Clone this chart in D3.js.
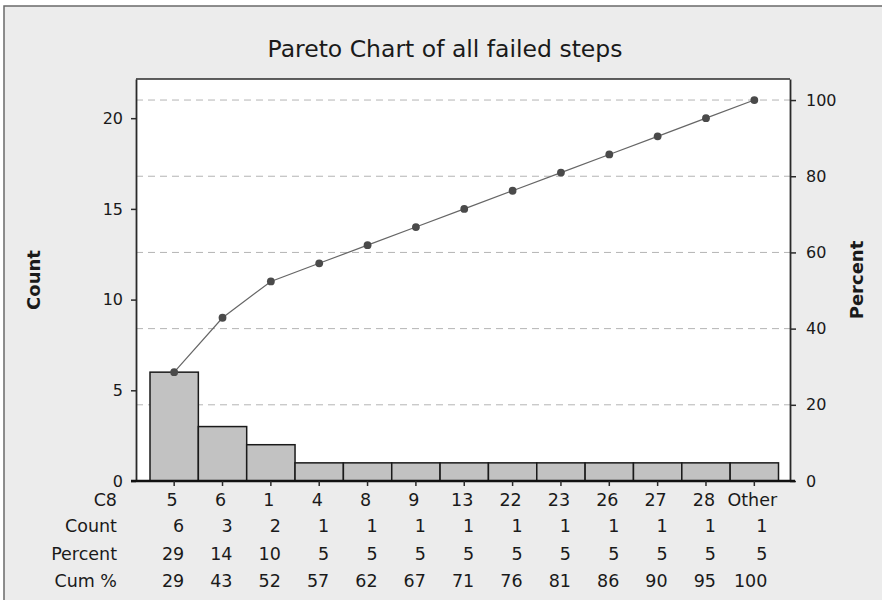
<!DOCTYPE html>
<html>
<head>
<meta charset="utf-8">
<script src="https://cdn.jsdelivr.net/npm/d3@7"></script>
<style>
  html, body { margin: 0; padding: 0; background: #ffffff; }
  svg { display: block; }
  text { font-family: "DejaVu Sans", Verdana, sans-serif; fill: #1a1a1a; }
</style>
</head>
<body>
<svg id="chart" width="882" height="600"></svg>
<script>
const categories = ["5", "6", "1", "4", "8", "9", "13", "22", "23", "26", "27", "28", "Other"];
const counts = [6, 3, 2, 1, 1, 1, 1, 1, 1, 1, 1, 1, 1];
const percentLabels = [29, 14, 10, 5, 5, 5, 5, 5, 5, 5, 5, 5, 5];
const cumPercentLabels = [29, 43, 52, 57, 62, 67, 71, 76, 81, 86, 90, 95, 100];
const countTicks = [0, 5, 10, 15, 20];
const percentTicks = [0, 20, 40, 60, 80, 100];
const rowNames = ["C8", "Count", "Percent", "Cum %"];
const titleText = "Pareto Chart of all failed steps";

const svg = d3.select("#chart");
const W = 882, H = 600;

const plot = { left: 136, right: 790, top: 79, bottom: 481 };
const total = d3.sum(counts);
const countMax = 22.16;

// outer frame
svg.append("rect").attr("x", 4).attr("y", 6).attr("width", W + 10).attr("height", H + 10)
  .attr("fill", "#ececec").attr("stroke", "#6a6a6a").attr("stroke-width", 1.5);

// plot area
svg.append("rect").attr("x", plot.left).attr("y", plot.top)
  .attr("width", plot.right - plot.left).attr("height", plot.bottom - plot.top)
  .attr("fill", "#ffffff");

const x = d3.scaleBand().domain(categories).range([150, 778.5]).paddingInner(0).paddingOuter(0);
const yC = d3.scaleLinear().domain([0, countMax]).range([plot.bottom, plot.top]);
const yP = d3.scaleLinear().domain([0, countMax / total * 100]).range([plot.bottom, plot.top]);

// grid lines
svg.append("g").selectAll("line").data(percentTicks.filter(d => d > 0)).join("line")
  .attr("x1", plot.left).attr("x2", plot.right)
  .attr("y1", d => yP(d)).attr("y2", d => yP(d))
  .attr("stroke", "#b4b4b4").attr("stroke-width", 1).attr("stroke-dasharray", "7,5");

// bars
svg.append("g").selectAll("rect").data(categories).join("rect")
  .attr("x", d => x(d)).attr("width", x.bandwidth())
  .attr("y", (d, i) => yC(counts[i])).attr("height", (d, i) => yC(0) - yC(counts[i]))
  .attr("fill", "#c2c2c2").attr("stroke", "#1a1a1a").attr("stroke-width", 1.5);

// cumulative line
let acc = 0;
const cum = counts.map(c => (acc += c) / total * 100);
const line = d3.line().x((d, i) => x(categories[i]) + x.bandwidth() / 2).y(d => yP(d));
svg.append("path").datum(cum).attr("d", line)
  .attr("fill", "none").attr("stroke", "#666666").attr("stroke-width", 1.2);
svg.append("g").selectAll("circle").data(cum).join("circle")
  .attr("cx", (d, i) => x(categories[i]) + x.bandwidth() / 2).attr("cy", d => yP(d))
  .attr("r", 3.9).attr("fill", "#4a4a4a");

// frame lines
svg.append("line").attr("x1", plot.left).attr("x2", plot.right).attr("y1", plot.top).attr("y2", plot.top)
  .attr("stroke", "#2a2a2a").attr("stroke-width", 1.6);

// left axis
const gL = svg.append("g").attr("transform", `translate(${plot.left},0)`)
  .call(d3.axisLeft(yC).tickValues(countTicks).tickSize(5).tickPadding(8).tickSizeOuter(0));
gL.select(".domain").attr("stroke", "#2a2a2a").attr("stroke-width", 1.8);
gL.selectAll(".tick line").attr("stroke", "#2a2a2a").attr("stroke-width", 1.5);
gL.selectAll(".tick text").style("font-size", "16px").attr("fill", "#1a1a1a")
  .style("font-family", '"DejaVu Sans", Verdana, sans-serif');

// right axis
const gR = svg.append("g").attr("transform", `translate(${plot.right},0)`)
  .call(d3.axisRight(yP).tickValues(percentTicks).tickSize(6).tickPadding(10).tickSizeOuter(0));
gR.select(".domain").attr("stroke", "#2a2a2a").attr("stroke-width", 1.8);
gR.selectAll(".tick line").attr("stroke", "#2a2a2a").attr("stroke-width", 1.5);
gR.selectAll(".tick text").style("font-size", "16px").attr("fill", "#1a1a1a")
  .style("font-family", '"DejaVu Sans", Verdana, sans-serif');

// bottom axis
const gB = svg.append("g").attr("transform", `translate(0,${plot.bottom})`)
  .call(d3.axisBottom(x).tickSize(5).tickSizeOuter(0).tickFormat(""));
gB.select(".domain").attr("d", `M131,0H795`).attr("stroke", "#111").attr("stroke-width", 2.6);
gB.selectAll(".tick line").attr("stroke", "#2a2a2a").attr("stroke-width", 1.5);

// table
const rowY = [506, 532, 560, 587];
const fs = "17.5px";
svg.append("g").selectAll("text").data(rowNames).join("text")
  .attr("x", 117).attr("y", (d, i) => rowY[i]).attr("text-anchor", "end")
  .style("font-size", fs).text(d => d);

const cx = d => x(d) + x.bandwidth() / 2;
svg.append("g").selectAll("text").data(categories).join("text")
  .attr("x", d => cx(d) - 2).attr("y", rowY[0]).attr("text-anchor", "middle")
  .style("font-size", fs).text(d => d);
const rows = [counts, percentLabels, cumPercentLabels];
rows.forEach((arr, r) => {
  svg.append("g").selectAll("text").data(arr).join("text")
    .attr("x", (d, i) => cx(categories[i]) + (i === categories.length - 1 ? 13 : 10))
    .attr("y", rowY[r + 1]).attr("text-anchor", "end")
    .style("font-size", fs).text(d => d);
});

// title
svg.append("text").attr("x", 445).attr("y", 57).attr("text-anchor", "middle")
  .style("font-size", "23.5px").text(titleText);

// axis titles
svg.append("text").attr("transform", "translate(39.5,280) rotate(-90)").attr("text-anchor", "middle")
  .style("font-size", "18px").style("font-weight", "bold").text("Count");
svg.append("text").attr("transform", "translate(863,280) rotate(-90)").attr("text-anchor", "middle")
  .style("font-size", "18px").style("font-weight", "bold").text("Percent");
</script>
</body>
</html>
